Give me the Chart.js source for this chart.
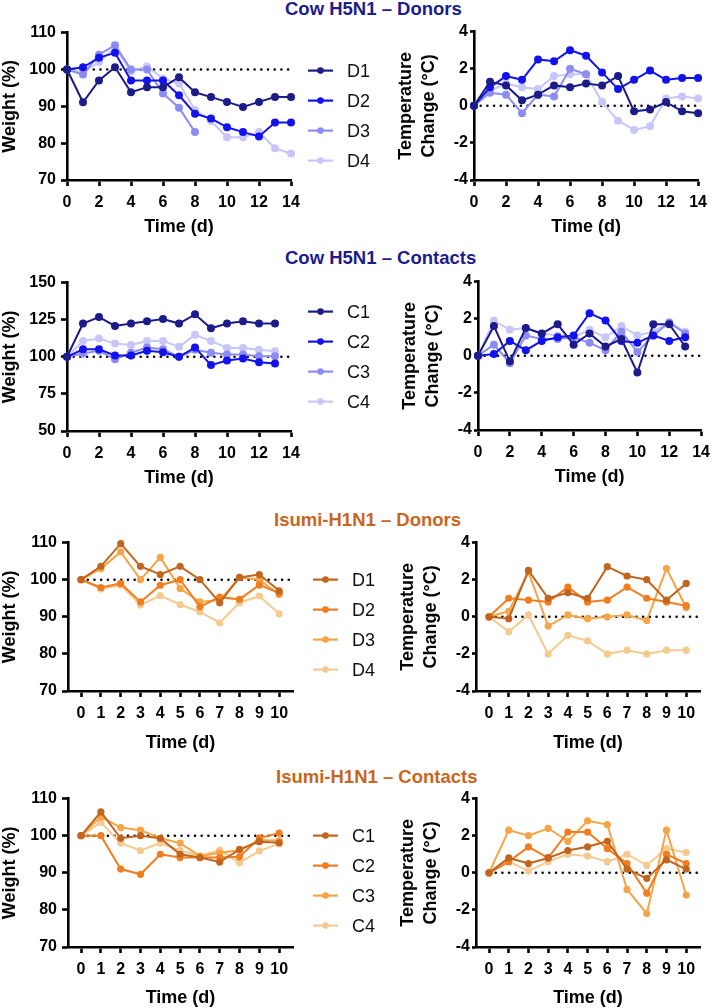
<!DOCTYPE html>
<html>
<head>
<meta charset="utf-8">
<script src="https://cdn.jsdelivr.net/npm/chart.js@4.4.1/dist/chart.umd.min.js"></script>
<style>
  body { margin: 0; background: #fff; width: 712px; height: 1008px; position: relative; overflow: hidden;
         font-family: "Liberation Sans", Arial, sans-serif; }
  canvas { position: absolute; }
  .ttl { position: absolute; font-weight: bold; font-size: 18.5px; line-height: 20px; white-space: nowrap; }
</style>
</head>
<body>
<div class="ttl" style="left:285px;top:-1px;color:#1c1c8c">Cow H5N1 – Donors</div>
<div class="ttl" style="left:285px;top:248px;color:#1c1c8c">Cow H5N1 – Contacts</div>
<div class="ttl" style="left:274px;top:510px;color:#c8661e">Isumi-H1N1 – Donors</div>
<div class="ttl" style="left:276px;top:767px;color:#c8661e">Isumi-H1N1 – Contacts</div>

<canvas id="p1"></canvas>
<canvas id="p2"></canvas>
<canvas id="p3"></canvas>
<canvas id="p4"></canvas>
<canvas id="p5"></canvas>
<canvas id="p6"></canvas>
<canvas id="p7"></canvas>
<canvas id="p8"></canvas>

<script>
// --- days ---
const cowDays = [0, 1, 2, 3, 4, 5, 6, 7, 8, 9, 10, 11, 12, 13, 14];
const cowContactDays = [0, 1, 2, 3, 4, 5, 6, 7, 8, 9, 10, 11, 12, 13];
const isumiDays = [0, 1, 2, 3, 4, 5, 6, 7, 8, 9, 10];
const cowTicks = [0, 2, 4, 6, 8, 10, 12, 14];
const isumiTicks = [0, 1, 2, 3, 4, 5, 6, 7, 8, 9, 10];

const donorNames = ['D1', 'D2', 'D3', 'D4'];
const contactNames = ['C1', 'C2', 'C3', 'C4'];
const cowColors = ['#1b1b8a', '#1212ee', '#8c8cf3', '#c6c6fa'];
const isumiColors = ['#c2661f', '#f27d1f', '#f5a446', '#f5ca90'];

// --- Cow H5N1 donors ---
const cowDonorWeight = [
  [100, 91.1, 97, 100.6, 93.8, 95.2, 95.2, 97.9, 93.8, 92.5, 91.2, 89.8, 91.2, 92.5, 92.5],
  [100, 100.6, 103.2, 104.5, 97, 97, 97, 93, 88, 86.7, 84.3, 83, 81.8, 85.6, 85.6],
  [100, 98.6, 104, 106.6, 100, 100, 93.5, 89.6, 83],
  [100, 99.3, 102, 106, 99.5, 100.8, 97.5, 96.2, 89, 86, 81.6, 81.6, 83, 78.6, 77.2]
];
const cowDonorTemp = [
  [0, 1.3, 1.1, 0.3, 0.6, 1.1, 1.0, 1.2, 1.1, 1.6, -0.3, -0.2, 0.2, -0.3, -0.4],
  [0, 1.0, 1.6, 1.4, 2.5, 2.4, 3.0, 2.7, 1.8, 0.9, 1.4, 1.9, 1.4, 1.5, 1.5],
  [0, 0.7, 0.6, -0.4, 0.6, 0.5, 2.0, 1.7],
  [0, 0.8, 1.2, 1.0, 0.9, 1.6, 1.7, 1.7, 0.2, -0.8, -1.3, -1.1, 0.4, 0.5, 0.4]
];

// --- Cow H5N1 contacts ---
const cowContactWeight = [
  [100, 122.4, 126.8, 120.8, 122.4, 123.9, 125.5, 122.4, 128.6, 119.2, 122.4, 123.9, 122.4, 122.4],
  [100, 105.1, 105.1, 100.9, 100.9, 104, 103.1, 100, 106.3, 94.4, 97.5, 98.9, 96.4, 95.5],
  [100, 102.2, 104, 98.4, 102.7, 106.3, 105.1, 100, 104.7, 102.7, 101.6, 101.6, 100.4, 100.4],
  [100, 110.7, 112.3, 108.9, 108, 110.7, 110.7, 106.7, 114.8, 110.7, 106, 106, 104.7, 103.8]
];
const cowContactTemp = [
  [0, 1.6, -0.3, 1.5, 1.2, 1.7, 0.6, 1.2, 0.5, 0.9, -0.9, 1.7, 1.7, 0.5],
  [0, 0.1, 0.8, 0.3, 0.8, 1.0, 1.1, 2.3, 1.9, 0.8, 0.7, 1.1, 0.8, 1.0],
  [0, 0.6, -0.4, 1.1, 0.9, 0.9, 1.0, 0.7, 0.3, 1.3, 0.2, 1.1, 1.8, 1.2],
  [0, 1.9, 1.4, 1.5, 1.2, 1.1, 1.0, 1.4, 1.0, 1.6, 1.1, 1.3, 1.8, 1.3]
];

// --- Isumi-H1N1 donors ---
const isumiDonorWeight = [
  [100, 103.6, 109.7, 103.6, 101.4, 103.6, 100, 93.8, 100.6, 101.4, 97],
  [100, 97.9, 99, 94, 98.5, 100, 92.7, 95.3, 94.7, 98.6, 96.4],
  [100, 103, 107.5, 100, 106, 97.6, 94, 94.5, 100.6, 100, 96],
  [100, 97.5, 98.5, 93.2, 95.7, 93.3, 91.3, 88.4, 93.8, 95.6, 90.8]
];
const isumiDonorTemp = [
  [0, -0.1, 2.5, 1.0, 1.3, 1.0, 2.7, 2.2, 2.0, 0.9, 1.8],
  [0, 1.0, 0.9, 0.8, 1.6, 0.8, 0.9, 1.6, 1.0, 0.8, 0.6],
  [0, 0.3, 2.4, -0.5, 0.1, -0.1, 0.0, 0.1, -0.2, 2.6, 0.5],
  [0, -0.8, 0.1, -2.0, -1.0, -1.3, -2.0, -1.8, -2.0, -1.8, -1.8]
];

// --- Isumi-H1N1 contacts ---
const isumiContactWeight = [
  [100, 106.4, 99.3, 100, 99.3, 95, 94.1, 92.9, 96.3, 98.4, 98.1],
  [100, 100, 91, 89.6, 95, 94.1, 94.1, 94.1, 94.3, 99.4, 100.7],
  [100, 105.1, 102.2, 101.5, 99.3, 98, 94.5, 95.4, 96.1, 98.8, 98.7],
  [100, 103.6, 98, 96, 98, 96, 94.6, 96.1, 92.7, 95.9, 97.8]
];
const isumiContactTemp = [
  [0, 0.8, 0.5, 0.8, 1.2, 1.4, 1.7, 0.2, -0.3, 0.7, 0.2],
  [0, 0.6, 1.4, 0.8, 2.2, 2.2, 1.3, 0.5, -1.1, 1.0, 0.5],
  [0, 2.3, 2.0, 2.4, 1.7, 2.8, 2.6, -0.9, -2.2, 2.3, -1.2],
  [0, 0.6, 0.1, 0.6, 1.0, 0.9, 0.6, 1.0, 0.4, 1.3, 1.1]
];

const FONT = '"Liberation Sans", Arial, sans-serif';

// dotted reference line (100 % / 0 °C)
const baseline = {
  id: 'baseline',
  beforeDatasetsDraw(chart, args, o) {
    const { ctx, chartArea, scales } = chart;
    const py = scales.y.getPixelForValue(o.value);
    ctx.save();
    ctx.strokeStyle = '#000';
    ctx.lineWidth = 2.6;
    ctx.lineCap = 'round';
    ctx.setLineDash([0, 6.7]);
    ctx.beginPath();
    ctx.moveTo(scales.x.getPixelForValue(0) + 6.7, py);
    ctx.lineTo(chartArea.right, py);
    ctx.stroke();
    ctx.restore();
  }
};

// legend to the right of the weight charts: line with a dot, then the name
const sideLegend = {
  id: 'sideLegend',
  afterDraw(chart, args, o) {
    if (!o.show) return;
    const { ctx, chartArea } = chart;
    const r = chartArea.right;
    ctx.save();
    chart.data.datasets.forEach((ds, i) => {
      const yy = chartArea.top + o.top + i * 30;
      ctx.strokeStyle = ds.borderColor;
      ctx.lineWidth = 2.2;
      ctx.beginPath();
      ctx.moveTo(r + o.x0, yy);
      ctx.lineTo(r + o.x1, yy);
      ctx.stroke();
      ctx.fillStyle = ds.borderColor;
      ctx.beginPath();
      ctx.arc(r + (o.x0 + o.x1) / 2, yy, 3.3, 0, Math.PI * 2);
      ctx.fill();
      ctx.fillStyle = '#111';
      ctx.font = '18px ' + FONT;
      ctx.textBaseline = 'middle';
      ctx.fillText(ds.label, r + o.tx, yy + 1);
    });
    ctx.restore();
  }
};

function buildConfig(p) {
  const datasets = p.series.map((vals, i) => ({
    label: p.names[i],
    data: vals.map((v, k) => ({ x: p.days[k], y: v })),
    borderColor: p.colors[i],
    backgroundColor: p.colors[i],
    borderWidth: 2,
    pointRadius: p.dot,
    pointBorderWidth: 0,
    tension: 0,
    clip: false
  }));
  return {
    type: 'line',
    data: { datasets: datasets },
    options: {
      responsive: false,
      animation: false,
      layout: { padding: { top: 4, right: p.padRight, bottom: 0, left: 0 } },
      plugins: {
        legend: { display: false },
        tooltip: { enabled: false },
        baseline: { value: p.base },
        sideLegend: p.legend || { show: false }
      },
      scales: {
        x: {
          type: 'linear',
          min: p.xMin,
          max: p.xMax,
          afterBuildTicks: s => { s.ticks = p.xTicks.map(v => ({ value: v })); },
          afterFit: s => { s.height = p.xAxisH; },
          border: { color: '#000', width: 2.6 },
          grid: { drawOnChartArea: false, drawTicks: true, tickLength: 6, tickWidth: 2.6, tickColor: '#000' },
          ticks: { color: '#000', font: { family: FONT, size: 16, weight: 'bold' }, padding: 7, maxRotation: 0, autoSkip: false },
          title: { display: true, text: 'Time (d)', color: '#000', font: { family: FONT, size: 18, weight: 'bold', lineHeight: 1.2 }, padding: { top: 0, bottom: 0 } }
        },
        y: {
          min: p.yMin,
          max: p.yMax,
          afterFit: s => { s.width = p.yAxisW; },
          border: { color: '#000', width: 2.6 },
          grid: { drawOnChartArea: false, drawTicks: true, tickLength: p.yTickLen, tickWidth: 2.6, tickColor: '#000' },
          ticks: { stepSize: p.yStep, color: '#000', font: { family: FONT, size: 16, weight: 'bold' }, padding: p.yTickPad },
          title: { display: true, text: p.yTitle, color: '#000', font: { family: FONT, size: 18, weight: 'bold', lineHeight: 1.3 }, padding: { top: p.yTitlePad, bottom: 0 } }
        }
      }
    },
    plugins: [baseline, sideLegend]
  };
}

// place the plot area of a panel at the wanted page box [left, top, right, bottom]
function makePanel(id, p, box) {
  const canvas = document.getElementById(id);
  const tw = box[2] - box[0], th = box[3] - box[1];
  canvas.width = p.yAxisW + tw + p.padRight;
  canvas.height = 30 + th + p.xAxisH;
  let chart = new Chart(canvas, buildConfig(p));
  let ca = chart.chartArea;
  const w = canvas.width + tw - (ca.right - ca.left);
  const h = canvas.height + th - (ca.bottom - ca.top);
  chart.destroy();
  canvas.width = w;
  canvas.height = h;
  chart = new Chart(canvas, buildConfig(p));
  ca = chart.chartArea;
  canvas.style.left = (box[0] - ca.left) + 'px';
  canvas.style.top = (box[1] - ca.top) + 'px';
}

const weightTitle = 'Weight (%)';
const tempTitle = ['Temperature', 'Change (°C)'];

// Cow donors
makePanel('p1', { days: cowDays, series: cowDonorWeight, names: donorNames, colors: cowColors, dot: 4,
  xMin: 0, xMax: 14, xTicks: cowTicks, yMin: 70, yMax: 110, yStep: 10, base: 100,
  yTitle: weightTitle, yAxisW: 67, xAxisH: 58, padRight: 96, yTickLen: 6, yTickPad: 5, yTitlePad: -2,
  legend: { show: true, x0: 17, x1: 42, tx: 56, top: 38 } }, [67, 33, 291, 181]);
makePanel('p2', { days: cowDays, series: cowDonorTemp, names: donorNames, colors: cowColors, dot: 4,
  xMin: 0, xMax: 14, xTicks: cowTicks, yMin: -4, yMax: 4, yStep: 2, base: 0,
  yTitle: tempTitle, yAxisW: 84, xAxisH: 58, padRight: 13, yTickLen: 4, yTickPad: 2, yTitlePad: 4 },
  [474, 32, 699, 181]);

// Cow contacts
makePanel('p3', { days: cowContactDays, series: cowContactWeight, names: contactNames, colors: cowColors, dot: 4,
  xMin: 0, xMax: 14, xTicks: cowTicks, yMin: 50, yMax: 150, yStep: 25, base: 100,
  yTitle: weightTitle, yAxisW: 67, xAxisH: 58, padRight: 96, yTickLen: 6, yTickPad: 5, yTitlePad: -2,
  legend: { show: true, x0: 17, x1: 42, tx: 56, top: 29 } }, [67, 283, 291, 432]);
makePanel('p4', { days: cowContactDays, series: cowContactTemp, names: contactNames, colors: cowColors, dot: 4,
  xMin: 0, xMax: 14, xTicks: cowTicks, yMin: -4, yMax: 4, yStep: 2, base: 0,
  yTitle: tempTitle, yAxisW: 84, xAxisH: 58, padRight: 10, yTickLen: 4, yTickPad: 2, yTitlePad: 4 },
  [478, 282, 702, 431]);

// Isumi donors
makePanel('p5', { days: isumiDays, series: isumiDonorWeight, names: donorNames, colors: isumiColors, dot: 3.6,
  xMin: -0.66, xMax: 10.7, xTicks: isumiTicks, yMin: 70, yMax: 110, yStep: 10, base: 100,
  yTitle: weightTitle, yAxisW: 68, xAxisH: 63, padRight: 96, yTickLen: 6, yTickPad: 5, yTitlePad: -2,
  legend: { show: true, x0: 20, x1: 45, tx: 59, top: 37 } }, [68, 543, 293, 692]);
makePanel('p6', { days: isumiDays, series: isumiDonorTemp, names: donorNames, colors: isumiColors, dot: 3.6,
  xMin: -0.66, xMax: 10.7, xTicks: isumiTicks, yMin: -4, yMax: 4, yStep: 2, base: 0,
  yTitle: tempTitle, yAxisW: 84, xAxisH: 63, padRight: 12, yTickLen: 4, yTickPad: 2, yTitlePad: 4 },
  [476, 543, 700, 692]);

// Isumi contacts
makePanel('p7', { days: isumiDays, series: isumiContactWeight, names: contactNames, colors: isumiColors, dot: 3.6,
  xMin: -0.66, xMax: 10.7, xTicks: isumiTicks, yMin: 70, yMax: 110, yStep: 10, base: 100,
  yTitle: weightTitle, yAxisW: 68, xAxisH: 62, padRight: 96, yTickLen: 6, yTickPad: 5, yTitlePad: -2,
  legend: { show: true, x0: 20, x1: 45, tx: 59, top: 37 } }, [68, 799, 293, 948]);
makePanel('p8', { days: isumiDays, series: isumiContactTemp, names: contactNames, colors: isumiColors, dot: 3.6,
  xMin: -0.66, xMax: 10.7, xTicks: isumiTicks, yMin: -4, yMax: 4, yStep: 2, base: 0,
  yTitle: tempTitle, yAxisW: 84, xAxisH: 62, padRight: 12, yTickLen: 4, yTickPad: 2, yTitlePad: 4 },
  [476, 799, 700, 948]);
</script>
</body>
</html>
